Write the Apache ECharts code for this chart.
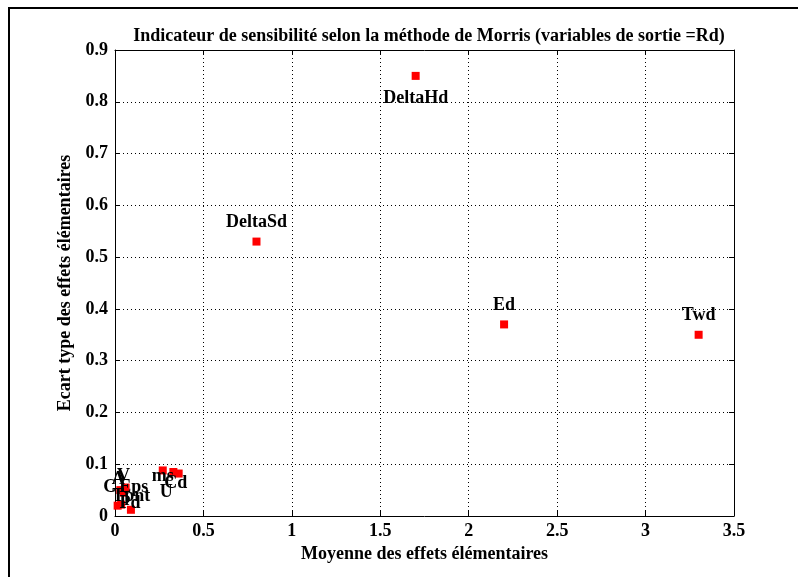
<!DOCTYPE html>
<html>
<head>
<meta charset="utf-8">
<script src="https://cdn.jsdelivr.net/npm/echarts@6/dist/echarts.min.js"></script>
<style>
  html, body { margin: 0; padding: 0; background: #fff; }
  #chart { width: 798px; height: 577px; }
</style>
</head>
<body>
<div id="chart"></div>
<script>
// Morris screening: mean vs standard deviation of elementary effects, output Rd
const variableNames = ['DeltaHd', 'DeltaSd', 'Ed', 'Twd', 'ms', 'U', 'Cd', 'A', 'V', 'C', 'Eps', 'Tpnt', 'Pd'];
const meanEffects   = [1.70, 0.80, 2.20, 3.30, 0.27, 0.33, 0.36, 0.03, 0.06, 0.015, 0.05, 0.035, 0.09];
const stdEffects    = [0.85, 0.53, 0.37, 0.35, 0.088, 0.085, 0.082, 0.05, 0.055, 0.02, 0.045, 0.022, 0.012];

// Label shift (px) from each marker centre
const labelShift = {
  DeltaHd: [0, 22], DeltaSd: [0, -19], Ed: [0, -19], Twd: [0, -19],
  ms: [0, 6], U: [-7, 20], Cd: [-3, 10],
  A: [-2, -11], V: [-2, -11], C: [-8, -18], Eps: [10, -5], Tpnt: [10, -8], Pd: [-1, -6]
};

const serif = '"Liberation Serif", "DejaVu Serif", serif';
const points = variableNames.map((n, i) => ({ name: n, value: [meanEffects[i], stdEffects[i]] }));

const chart = echarts.init(document.getElementById('chart'), null, { renderer: 'canvas' });

const tickLabel = { color: '#000', fontFamily: serif, fontWeight: 'bold', fontSize: 18 };
const nameStyle = { color: '#000', fontFamily: serif, fontWeight: 'bold', fontSize: 18 };
const axisLine = { show: true, onZero: false, lineStyle: { color: '#000', width: 1 } };
const tick = { show: true, inside: true, length: 5, lineStyle: { color: '#000' } };
const grid = { show: true, lineStyle: { color: '#000', type: [1, 3], width: 1 } };

chart.setOption({
  backgroundColor: '#fff',
  animation: false,
  title: {
    text: 'Indicateur de sensibilité selon la méthode de Morris (variables de sortie =Rd)',
    left: 424, top: 22, textAlign: 'center',
    textStyle: { color: '#000', fontFamily: serif, fontWeight: 'bold', fontSize: 18 }
  },
  grid: { left: 115, right: 64, top: 50, bottom: 61 },
  xAxis: [
    {
      type: 'value', min: 0, max: 3.5, interval: 0.5, position: 'bottom',
      name: 'Moyenne des effets élémentaires', nameLocation: 'middle', nameGap: 25,
      nameTextStyle: nameStyle,
      axisLine, axisTick: tick, axisLabel: Object.assign({ margin: 6 }, tickLabel), splitLine: grid
    },
    {
      type: 'value', min: 0, max: 3.5, interval: 0.5, position: 'top',
      axisLine, axisTick: tick, axisLabel: { show: false }, splitLine: { show: false }
    }
  ],
  yAxis: [
    {
      type: 'value', min: 0, max: 0.9, interval: 0.1, position: 'left',
      name: 'Ecart type des effets élémentaires', nameLocation: 'middle', nameGap: 31,
      nameTextStyle: nameStyle,
      axisLine, axisTick: tick, axisLabel: Object.assign({ margin: 7 }, tickLabel), splitLine: grid
    },
    {
      type: 'value', min: 0, max: 0.9, interval: 0.1, position: 'right',
      axisLine, axisTick: tick, axisLabel: { show: false }, splitLine: { show: false }
    }
  ],
  graphic: [
    { type: 'polyline', shape: { points: [[9, 580], [9, 8], [800, 8]] },
      style: { stroke: '#000', lineWidth: 2, fill: null }, silent: true }
  ],
  series: [{
    type: 'scatter',
    xAxisIndex: 0, yAxisIndex: 0,
    symbol: 'rect', symbolSize: 8,
    itemStyle: { color: '#ff0000', opacity: 1 },
    label: {
      show: true, position: 'inside', formatter: '{b}',
      color: '#000', fontFamily: serif, fontWeight: 'bold', fontSize: 18
    },
    labelLayout: function (params) {
      const s = labelShift[variableNames[params.dataIndex]];
      return { dx: s[0], dy: s[1], hideOverlap: false };
    },
    data: points
  }]
});
</script>
</body>
</html>
